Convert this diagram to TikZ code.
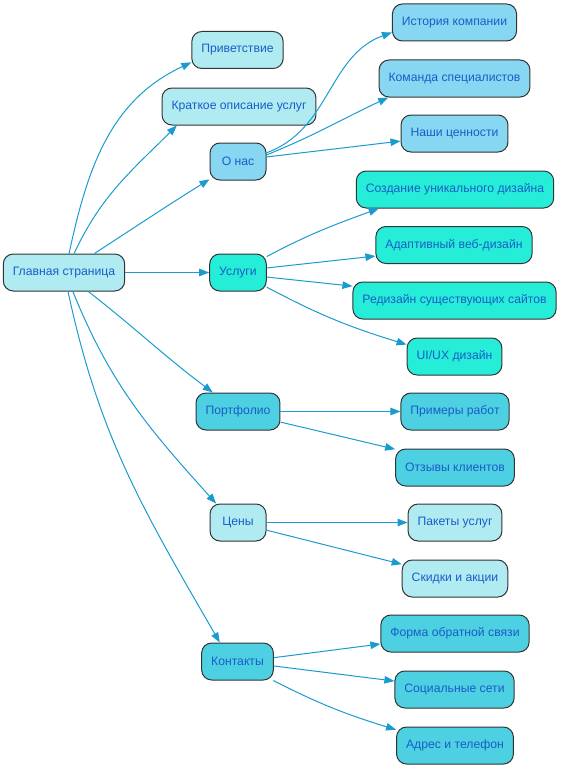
\documentclass[tikz,border=0pt]{standalone}
\usepackage{fontspec}
\setmainfont{Liberation Sans}
\usetikzlibrary{arrows.meta}
\definecolor{cLight}{HTML}{B0EBF2}
\definecolor{cSky}{HTML}{87D7F2}
\definecolor{cTurq}{HTML}{26EDD8}
\definecolor{cDark}{HTML}{4DD0E1}
\definecolor{txt}{HTML}{1A5CC8}
\definecolor{edgec}{HTML}{1A9BD0}
\begin{document}
\begin{tikzpicture}[x=1pt,y=1pt,
  box/.style={draw=black!80, line width=1pt, rounded corners=10pt, minimum height=37pt,
    minimum width=56pt, inner xsep=9.5pt, font=\fontsize{12.2}{14}\selectfont, text=txt},
  light/.style={box, fill=cLight},
  sky/.style={box, fill=cSky},
  turq/.style={box, fill=cTurq},
  dark/.style={box, fill=cDark},
  conn/.style={draw=edgec, line width=1pt, -{Triangle[length=10pt,width=7.5pt]}}]
\useasboundingbox (0,0) rectangle (562,-768);
% level 0
\node[light] (main) at (64,-272.5) {Главная страница};
% level 1
\node[light] (priv) at (237.5,-50) {Приветствие};
\node[light] (krat) at (239,-106.5) {Краткое описание услуг};
\node[sky] (onas) at (238,-161.5) {О нас};
\node[turq] (usl) at (238,-272.5) {Услуги};
\node[dark] (portf) at (238,-411.5) {Портфолио};
\node[light] (tseny) at (238,-522.5) {Цены};
\node[dark] (kont) at (237.5,-661.5) {Контакты};
% level 2
\node[sky] (hist) at (454.5,-22.5) {История компании};
\node[sky] (team) at (454.5,-78.5) {Команда специалистов};
\node[sky] (vals) at (454.5,-133.5) {Наши ценности};
\node[turq] (sozd) at (455,-189.5) {Создание уникального дизайна};
\node[turq] (adapt) at (454,-245) {Адаптивный веб-дизайн};
\node[turq] (rediz) at (454.5,-300.5) {Редизайн существующих сайтов};
\node[turq] (uiux) at (454.5,-356.5) {UI/UX дизайн};
\node[dark] (prim) at (455,-411.5) {Примеры работ};
\node[dark] (otz) at (455,-467.5) {Отзывы клиентов};
\node[light] (paket) at (455,-522.5) {Пакеты услуг};
\node[light] (skid) at (455,-578.5) {Скидки и акции};
\node[dark] (forma) at (455,-633.5) {Форма обратной связи};
\node[dark] (soc) at (454.5,-689.5) {Социальные сети};
\node[dark] (adres) at (455,-745.5) {Адрес и телефон};
% edges from main
\draw[conn] (main.75) to[out=78,in=205] (priv.195);
\draw[conn] (main.62) to[out=65,in=225] (krat.197);
\draw[conn] (main.32) to[out=33,in=212] (onas.212);
\draw[conn] (main.east) -- (usl.west);
\draw[conn] (main.-38) to[out=-38,in=143] (portf.143);
\draw[conn] (main.-65) to[out=-68,in=132] (tseny.139);
\draw[conn] (main.-78) to[out=-78,in=120] (kont.133);
% О нас
\draw[conn] (onas.17) to[out=20,in=200] (hist.189);
\draw[conn] (onas.13) to[out=22,in=205] (team.196);
\draw[conn] (onas.9) -- (vals.188);
% Услуги
\draw[conn] (usl.29) to[out=28,in=200] (sozd.194);
\draw[conn] (usl.9) -- (adapt.188);
\draw[conn] (usl.-9) -- (rediz.172);
\draw[conn] (usl.-27) to[out=-28,in=163] (uiux.166);
% Портфолио
\draw[conn] (portf.east) -- (prim.west);
\draw[conn] (portf.-14) -- (otz.163);
% Цены
\draw[conn] (tseny.east) -- (paket.west);
\draw[conn] (tseny.-15) -- (skid.165);
% Контакты
\draw[conn] (kont.6) -- (forma.188);
\draw[conn] (kont.-7) -- (soc.172);
\draw[conn] (kont.-28) to[out=-27,in=163] (adres.165);
\end{tikzpicture}
\end{document}
